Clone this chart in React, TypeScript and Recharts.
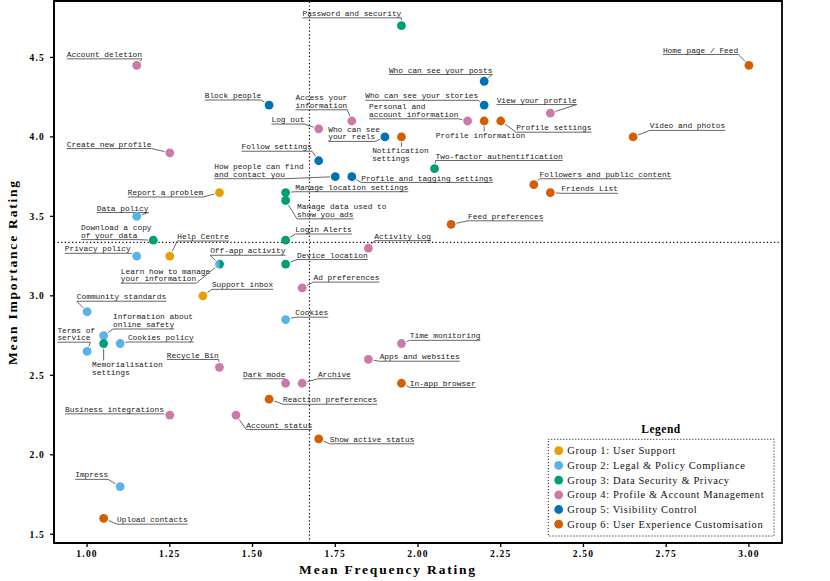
import React from 'react';
import { ScatterChart, Scatter, XAxis, YAxis, ReferenceLine, ReferenceArea, Legend, Label } from 'recharts';

// ---- data ----
const groupUserSupport = [
  { name: 'Report a problem', x: 1.4, y: 3.65 },
  { name: 'Help Centre', x: 1.25, y: 3.25 },
  { name: 'Support inbox', x: 1.35, y: 3.0 },
];
const groupLegal = [
  { name: 'Data policy', x: 1.15, y: 3.5 },
  { name: 'Privacy policy', x: 1.15, y: 3.25 },
  { name: 'Learn how to manage your information', x: 1.4, y: 3.2 },
  { name: 'Community standards', x: 1.0, y: 2.9 },
  { name: 'Cookies', x: 1.6, y: 2.85 },
  { name: 'Information about online safety', x: 1.05, y: 2.75 },
  { name: 'Cookies policy', x: 1.1, y: 2.7 },
  { name: 'Terms of service', x: 1.0, y: 2.65 },
  { name: 'Impress', x: 1.1, y: 1.8 },
];
const groupSecurity = [
  { name: 'Password and security', x: 1.95, y: 4.7 },
  { name: 'Two-factor authentification', x: 2.05, y: 3.8 },
  { name: 'Manage location settings', x: 1.6, y: 3.65 },
  { name: 'Manage data used to show you ads', x: 1.6, y: 3.6 },
  { name: 'Download a copy of your data', x: 1.2, y: 3.35 },
  { name: 'Login Alerts', x: 1.6, y: 3.35 },
  { name: 'Off-app activity', x: 1.4, y: 3.2 },
  { name: 'Device location', x: 1.6, y: 3.2 },
  { name: 'Memorialisation settings', x: 1.05, y: 2.7 },
];
const groupProfile = [
  { name: 'Account deletion', x: 1.15, y: 4.45 },
  { name: 'View your profile', x: 2.4, y: 4.15 },
  { name: 'Access your information', x: 1.8, y: 4.1 },
  { name: 'Personal and account information', x: 2.15, y: 4.1 },
  { name: 'Log out', x: 1.7, y: 4.05 },
  { name: 'Create new profile', x: 1.25, y: 3.9 },
  { name: 'Activity Log', x: 1.85, y: 3.3 },
  { name: 'Ad preferences', x: 1.65, y: 3.05 },
  { name: 'Time monitoring', x: 1.95, y: 2.7 },
  { name: 'Apps and websites', x: 1.85, y: 2.6 },
  { name: 'Recycle Bin', x: 1.4, y: 2.55 },
  { name: 'Dark mode', x: 1.6, y: 2.45 },
  { name: 'Archive', x: 1.65, y: 2.45 },
  { name: 'Business integrations', x: 1.25, y: 2.25 },
  { name: 'Account status', x: 1.45, y: 2.25 },
];
const groupVisibility = [
  { name: 'Who can see your posts', x: 2.2, y: 4.35 },
  { name: 'Block people', x: 1.55, y: 4.2 },
  { name: 'Who can see your stories', x: 2.2, y: 4.2 },
  { name: 'Who can see your reels', x: 1.9, y: 4.0 },
  { name: 'Follow settings', x: 1.7, y: 3.85 },
  { name: 'How people can find and contact you', x: 1.75, y: 3.75 },
  { name: 'Profile and tagging settings', x: 1.8, y: 3.75 },
];
const groupExperience = [
  { name: 'Home page / Feed', x: 3.0, y: 4.45 },
  { name: 'Profile information', x: 2.2, y: 4.1 },
  { name: 'Profile settings', x: 2.25, y: 4.1 },
  { name: 'Notification settings', x: 1.95, y: 4.0 },
  { name: 'Video and photos', x: 2.65, y: 4.0 },
  { name: 'Followers and public content', x: 2.35, y: 3.7 },
  { name: 'Friends List', x: 2.4, y: 3.65 },
  { name: 'Feed preferences', x: 2.1, y: 3.45 },
  { name: 'In-app browser', x: 1.95, y: 2.45 },
  { name: 'Reaction preferences', x: 1.55, y: 2.35 },
  { name: 'Show active status', x: 1.7, y: 2.1 },
  { name: 'Upload contacts', x: 1.05, y: 1.6 },
];

const groupNames = [
  'Group 1: User Support',
  'Group 2: Legal & Policy Compliance',
  'Group 3: Data Security & Privacy',
  'Group 4: Profile & Account Management',
  'Group 5: Visibility Control',
  'Group 6: User Experience Customisation',
];
const xTicks = [1.0, 1.25, 1.5, 1.75, 2.0, 2.25, 2.5, 2.75, 3.0];
const yTicks = [1.5, 2.0, 2.5, 3.0, 3.5, 4.0, 4.5];
const meanFrequency = 1.672;
const meanImportance = 3.336;

// ---- styling / layout ----
const COLORS = ['#E69F00', '#56B4E9', '#009E73', '#CC79A7', '#0072B2', '#D55E00'];
const groupData = [groupUserSupport, groupLegal, groupSecurity, groupProfile, groupVisibility, groupExperience];
const allPoints = groupData.flat();
const HALF_MARKERS = new Set(['Off-app activity']);
const R = 4.4;

type LL = { dx: number; dy: number; lines?: string[]; mode?: 't' };
const LAYOUT: Record<string, LL> = {
  'Password and security': { dx: -99, dy: -12.3 },
  'Account deletion': { dx: -70, dy: -11 },
  'Home page / Feed': { dx: -86, dy: -15.4 },
  'Who can see your posts': { dx: -95.3, dy: -11.3 },
  'Block people': { dx: -64.4, dy: -9.6 },
  'Who can see your stories': { dx: -119, dy: -9.3 },
  'View your profile': { dx: -53.7, dy: -13 },
  'Access your information': { dx: -56.3, dy: -23.3, lines: ['Access your', 'information'] },
  'Personal and account information': { dx: -98.6, dy: -14.3, lines: ['Personal and', 'account information'] },
  'Profile information': { dx: -48.4, dy: 14.3, mode: 't' },
  'Profile settings': { dx: 15.4, dy: 6.7 },
  'Log out': { dx: -47.3, dy: -9.4 },
  'Who can see your reels': { dx: -56.7, dy: -7.6, lines: ['Who can see', 'your reels'] },
  'Notification settings': { dx: -29.3, dy: 14, lines: ['Notification', 'settings'], mode: 't' },
  'Video and photos': { dx: 16.7, dy: -11 },
  'Create new profile': { dx: -103, dy: -8.7 },
  'Follow settings': { dx: -77.3, dy: -14 },
  'Two-factor authentification': { dx: 1, dy: -12.7 },
  'How people can find and contact you': { dx: -121, dy: -10, lines: ['How people can find', 'and contact you'] },
  'Profile and tagging settings': { dx: 9.4, dy: 1.3 },
  'Followers and public content': { dx: 5.7, dy: -10.3 },
  'Report a problem': { dx: -91.6, dy: 0 },
  'Manage location settings': { dx: 9.7, dy: -5.3 },
  'Friends List': { dx: 11, dy: -3.7 },
  'Manage data used to show you ads': { dx: 11.4, dy: 6.3, lines: ['Manage data used to', 'show you ads'] },
  'Data policy': { dx: -40, dy: -8.4 },
  'Feed preferences': { dx: 17, dy: -8 },
  'Download a copy of your data': { dx: -72.3, dy: -12.7, lines: ['Download a copy', 'of your data'] },
  'Login Alerts': { dx: 9.7, dy: -10.7 },
  'Activity Log': { dx: 6, dy: -12 },
  'Privacy policy': { dx: -72, dy: -7.3 },
  'Help Centre': { dx: 7.4, dy: -19.6 },
  'Off-app activity': { dx: -9.3, dy: -13.3 },
  'Learn how to manage your information': { dx: -98.6, dy: 7, lines: ['Learn how to manage', 'your information'] },
  'Device location': { dx: 11.4, dy: -9 },
  'Ad preferences': { dx: 11.3, dy: -10.3 },
  'Support inbox': { dx: 9, dy: -11 },
  'Community standards': { dx: -10.3, dy: -15 },
  'Cookies': { dx: 9.7, dy: -7 },
  'Information about online safety': { dx: 9.4, dy: -18.7, lines: ['Information about', 'online safety'] },
  'Memorialisation settings': { dx: -11.6, dy: 21, lines: ['Memorialisation', 'settings'], mode: 't' },
  'Cookies policy': { dx: 7.7, dy: -6 },
  'Time monitoring': { dx: 8.3, dy: -7.7 },
  'Terms of service': { dx: -29.7, dy: -21.4, lines: ['Terms of', 'service'] },
  'Apps and websites': { dx: 11.3, dy: -2.7 },
  'Recycle Bin': { dx: -52.6, dy: -12.4 },
  'Dark mode': { dx: -42.6, dy: -9 },
  'Archive': { dx: 15.7, dy: -9 },
  'In-app browser': { dx: 8.3, dy: -0.3 },
  'Reaction preferences': { dx: 14, dy: 0.6 },
  'Business integrations': { dx: -104.7, dy: -5.7 },
  'Account status': { dx: 10.3, dy: 10 },
  'Show active status': { dx: 11, dy: 0.4 },
  'Impress': { dx: -45, dy: -11.7 },
  'Upload contacts': { dx: 13.4, dy: 1.3 },
};

const FS = 7.85;
const CW = FS * 0.6;
const LH = 7.6;
const MONO = '"Liberation Mono", "DejaVu Sans Mono", monospace';
const SERIF = '"Liberation Serif", "DejaVu Serif", serif';

function connector(ex: number, ey: number, px: number, py: number) {
  const vx = px - ex;
  const vy = py - ey;
  const d = Math.hypot(vx, vy);
  const cut = R + 1;
  if (d <= cut) return null;
  const k = (d - cut) / d;
  return <line x1={ex} y1={ey} x2={ex + vx * k} y2={ey + vy * k} stroke="#555" strokeWidth={0.9} />;
}

const LabelShape = (props: any) => {
  const { cx, cy, payload } = props;
  const L = LAYOUT[payload.name];
  if (!L || cx == null) return <g />;
  const lines = L.lines ?? [payload.name];
  const tx = cx + L.dx;
  const ty0 = cy + L.dy;
  const lastY = ty0 + (lines.length - 1) * LH;
  const widths = lines.map((s) => s.length * CW);
  const lastW = widths[widths.length - 1];
  let deco: React.ReactNode = null;
  if (L.mode === 't') {
    const maxW = Math.max(...widths);
    const ax = Math.min(Math.max(cx, tx + 2), tx + maxW - 2);
    deco = connector(ax, ty0 - 4, cx, cy);
  } else {
    const uy = lastY + 4.5;
    const u1 = tx;
    const u2 = tx + lastW;
    let ex: number;
    if (cx <= u1) ex = u1;
    else if (cx >= u2) ex = u2;
    else ex = Math.abs(cx - u1) < Math.abs(cx - u2) ? u1 : u2;
    deco = (
      <g>
        <line x1={u1} y1={uy} x2={u2} y2={uy} stroke="#555" strokeWidth={0.9} />
        {connector(ex, uy, cx, cy)}
      </g>
    );
  }
  return (
    <g>
      {deco}
      {lines.map((s, i) => (
        <text key={i} x={tx} y={ty0 + i * LH + 2.6} fontFamily={MONO} fontSize={FS} fill="#1a1a1a">
          {s}
        </text>
      ))}
    </g>
  );
};

const makeDot = (color: string) => (props: any) => {
  const { cx, cy, payload } = props;
  if (cx == null) return <g />;
  if (HALF_MARKERS.has(payload.name)) {
    return <path d={`M${cx},${cy - R} A${R},${R} 0 0 1 ${cx},${cy + R} Z`} fill={color} />;
  }
  return <circle cx={cx} cy={cy} r={R} fill={color} />;
};

const renderLegend = (props: any) => {
  const items = (props.payload || []).filter((p: any) => p.type !== 'none' && groupNames.includes(p.value));
  return (
    <svg width={240} height={130} style={{ display: 'block' }}>
      <text x={121} y={23} textAnchor="middle" fontFamily={SERIF} fontWeight="bold" fontSize={11.5} letterSpacing={0.5} fill="#000">
        Legend
      </text>
      <rect x={8.3} y={29.3} width={225.7} height={96.7} fill="none" stroke="#000" strokeWidth={1} strokeDasharray="1 2" />
      {items.map((it: any, i: number) => (
        <g key={it.value}>
          <circle cx={18.7} cy={40.7 + i * 14.7} r={4.4} fill={it.color} />
          <text x={27.3} y={40.7 + i * 14.7 + 3.5} fontFamily={SERIF} fontSize={10.5} letterSpacing={0.6} fill="#111">
            {it.value}
          </text>
        </g>
      ))}
    </svg>
  );
};

const tickStyle = { fill: '#000', fontFamily: SERIF, fontWeight: 'bold', fontSize: 9.5, letterSpacing: 1.2 } as any;

export default function App() {
  return (
    <div style={{ position: 'absolute', left: 0, top: 0, width: 830, height: 581, background: '#fff' }}>
      <ScatterChart width={830} height={581} margin={{ top: 1, right: 48, bottom: 0, left: 0 }}>
        <XAxis
          type="number"
          dataKey="x"
          domain={[0.9, 3.1]}
          ticks={xTicks}
          tickFormatter={(v: number) => v.toFixed(2)}
          height={38}
          tick={tickStyle}
          tickSize={4}
          tickMargin={3}
          tickLine={{ stroke: '#000', strokeWidth: 1.3 }}
          axisLine={{ stroke: '#000', strokeWidth: 1.8 }}
          allowDataOverflow
        >
          <Label
            content={() => (
              <text x={388} y={574} textAnchor="middle" fontFamily={SERIF} fontWeight="bold" fontSize={13.5} letterSpacing={1.8} fill="#000">
                Mean Frequency Rating
              </text>
            )}
          />
        </XAxis>
        <YAxis
          type="number"
          dataKey="y"
          domain={[1.445, 4.855]}
          ticks={yTicks}
          tickFormatter={(v: number) => v.toFixed(1)}
          width={54}
          tick={tickStyle}
          tickSize={4}
          tickMargin={5}
          tickLine={{ stroke: '#000', strokeWidth: 1.3 }}
          axisLine={{ stroke: '#000', strokeWidth: 1.8 }}
          allowDataOverflow
        >
          <Label
            content={() => (
              <text
                x={12}
                y={272}
                transform="rotate(-90, 12, 272)"
                textAnchor="middle"
                dominantBaseline="central"
                fontFamily={SERIF}
                fontWeight="bold"
                fontSize={13.5}
                letterSpacing={1.8}
                fill="#000"
              >
                Mean Importance Rating
              </text>
            )}
          />
        </YAxis>
        <ReferenceArea x1={0.9} x2={3.1} y1={1.445} y2={4.855} fill="none" stroke="#000" strokeWidth={1.8} ifOverflow="visible" />
        <ReferenceLine x={meanFrequency} stroke="#000" strokeWidth={1.2} strokeDasharray="1.2 2.4" />
        <ReferenceLine y={meanImportance} stroke="#000" strokeWidth={1.2} strokeDasharray="1.2 2.4" />
        <Scatter name="labels" data={allPoints} shape={LabelShape} legendType="none" isAnimationActive={false} />
        {groupData.map((d, i) => (
          <Scatter key={groupNames[i]} name={groupNames[i]} data={d} fill={COLORS[i]} shape={makeDot(COLORS[i])} legendType="circle" isAnimationActive={false} />
        ))}
        <Legend
          layout="horizontal"
          verticalAlign="middle"
          align="center"
          content={renderLegend}
          wrapperStyle={{ position: 'absolute', left: 540, top: 410, width: 240, height: 130 }}
        />
      </ScatterChart>
    </div>
  );
}
